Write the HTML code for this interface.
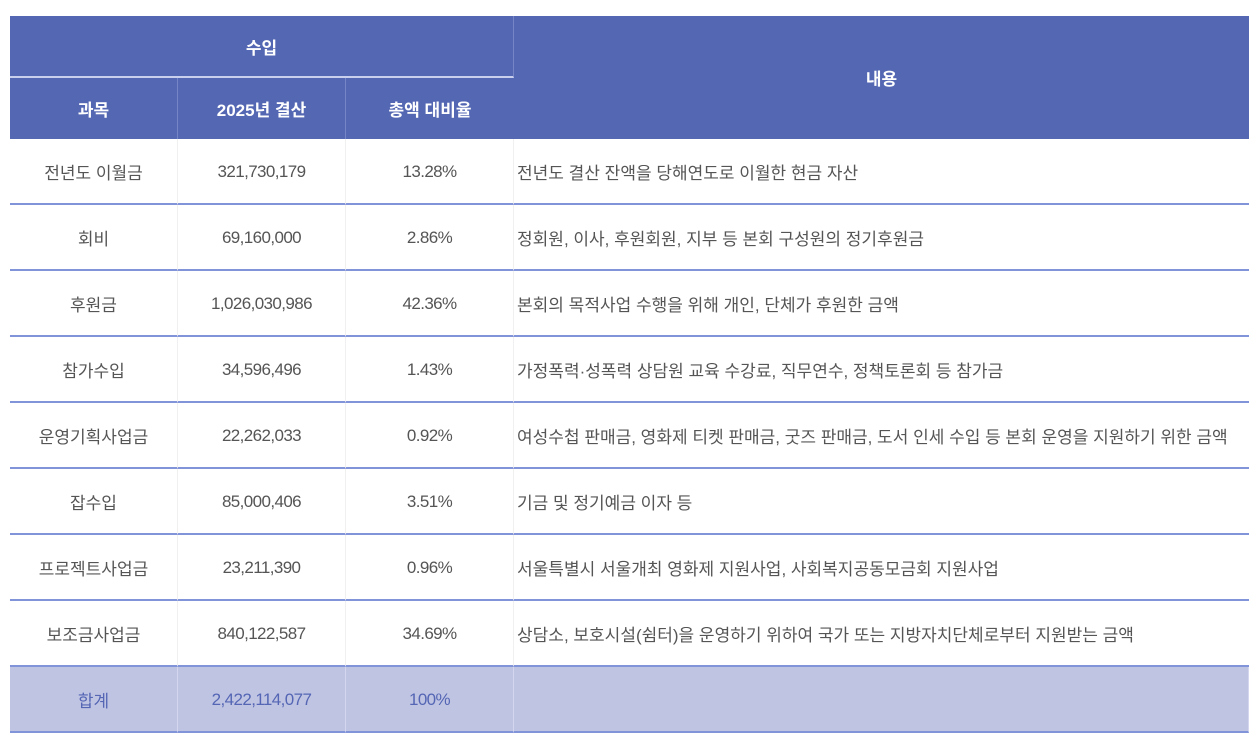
<!DOCTYPE html>
<html><head><meta charset="utf-8"><style>
body{margin:0;background:#fff;font-family:"Liberation Sans","Noto Sans CJK KR",sans-serif;}
table{position:absolute;left:10px;top:16px;width:1239px;border-collapse:separate;border-spacing:0;table-layout:fixed;}
th,td{text-align:center;font-size:17px;padding:0;}
th{background:#5467b3;color:#fff;font-weight:bold;border-right:1px solid #7585c6;}
th:last-child{border-right:none;}
thead tr:first-child th{height:60px;}
thead tr:first-child th:first-child{border-bottom:2px solid #c9d0ee;}
thead tr:nth-child(2) th{height:61px;}
td{height:64px;color:#555;border-bottom:2px solid #8193d9;border-right:1px solid #f0f0f0;}
td:nth-child(2),td:nth-child(3){letter-spacing:-0.6px;padding-top:2px;height:62px;}
td:last-child{border-right:none;}
td.d{text-align:left;padding-left:3px;}
tr.t td{background:#c0c4e3;color:#5466b4;border-right:1px solid #d3d6ee;}
</style></head><body>
<table>
<colgroup><col style="width:168px"><col style="width:168px"><col style="width:168px"><col></colgroup>
<thead>
<tr><th colspan="3">수입</th><th rowspan="2">내용</th></tr>
<tr><th>과목</th><th>2025년 결산</th><th>총액 대비율</th></tr>
</thead>
<tbody>
<tr><td>전년도 이월금</td><td>321,730,179</td><td>13.28%</td><td class="d">전년도 결산 잔액을 당해연도로 이월한 현금 자산</td></tr>
<tr><td>회비</td><td>69,160,000</td><td>2.86%</td><td class="d">정회원, 이사, 후원회원, 지부 등 본회 구성원의 정기후원금</td></tr>
<tr><td>후원금</td><td>1,026,030,986</td><td>42.36%</td><td class="d">본회의 목적사업 수행을 위해 개인, 단체가 후원한 금액</td></tr>
<tr><td>참가수입</td><td>34,596,496</td><td>1.43%</td><td class="d">가정폭력·성폭력 상담원 교육 수강료, 직무연수, 정책토론회 등 참가금</td></tr>
<tr><td>운영기획사업금</td><td>22,262,033</td><td>0.92%</td><td class="d">여성수첩 판매금, 영화제 티켓 판매금, 굿즈 판매금, 도서 인세 수입 등 본회 운영을 지원하기 위한 금액</td></tr>
<tr><td>잡수입</td><td>85,000,406</td><td>3.51%</td><td class="d">기금 및 정기예금 이자 등</td></tr>
<tr><td>프로젝트사업금</td><td>23,211,390</td><td>0.96%</td><td class="d">서울특별시 서울개최 영화제 지원사업, 사회복지공동모금회 지원사업</td></tr>
<tr><td>보조금사업금</td><td>840,122,587</td><td>34.69%</td><td class="d">상담소, 보호시설(쉼터)을 운영하기 위하여 국가 또는 지방자치단체로부터 지원받는 금액</td></tr>
<tr class="t"><td>합계</td><td>2,422,114,077</td><td>100%</td><td></td></tr>
</tbody>
</table>
</body></html>
